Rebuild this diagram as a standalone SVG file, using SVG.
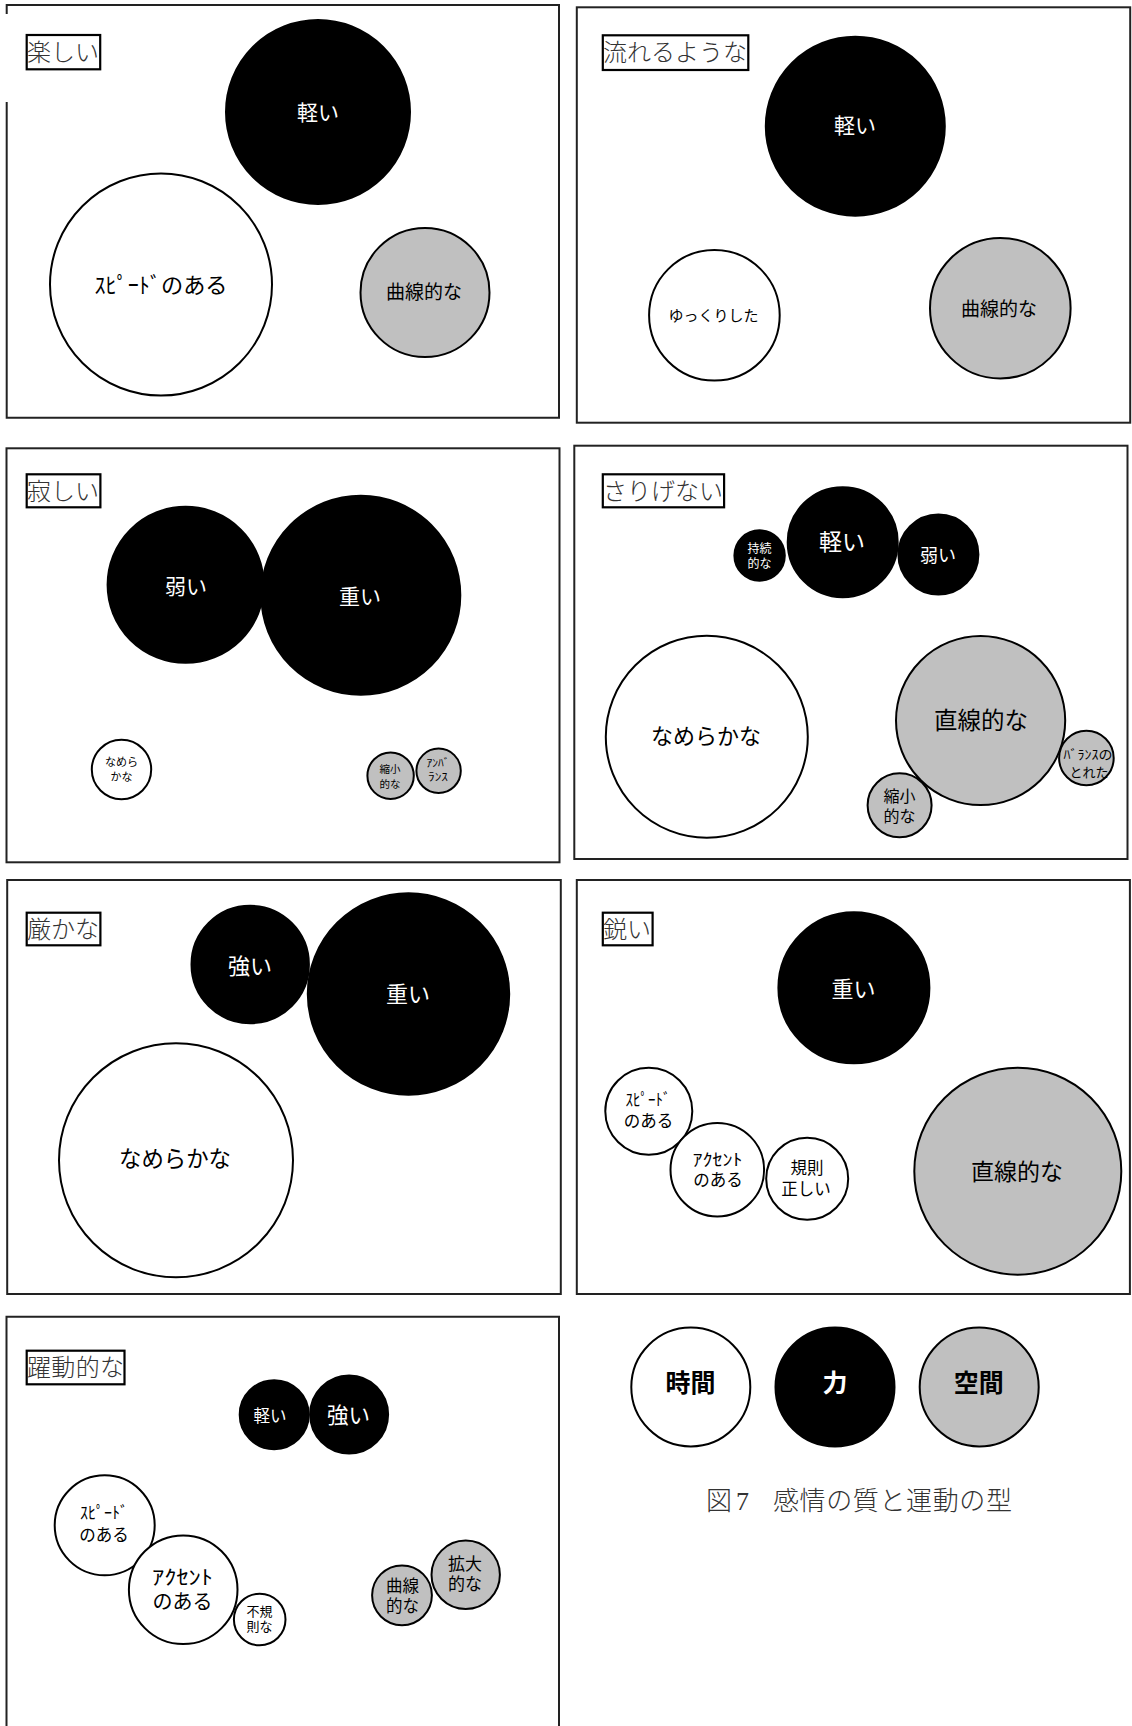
<svg xmlns="http://www.w3.org/2000/svg" width="1132" height="1726" viewBox="0 0 1132 1726">
<style>
.frame{fill:none;stroke:#222;stroke-width:2}
.tbox{fill:#fff;stroke:#000;stroke-width:2.2}
.title{font-family:"Liberation Serif","Noto Sans CJK JP",serif;font-weight:300;font-size:24px;fill:#333}
.k{fill:#000;stroke:#000;stroke-width:2}
.w{fill:#fff;stroke:#000;stroke-width:2}
.g{fill:#c0c0c0;stroke:#000;stroke-width:2}
.lb{font-family:"Noto Sans CJK JP","Noto Sans",sans-serif;text-anchor:middle;fill:#000}
.lw{font-family:"Noto Sans CJK JP","Noto Sans",sans-serif;text-anchor:middle;fill:#fff}
.bold{font-weight:bold}
.cap{font-family:"Liberation Serif","Noto Sans CJK JP",serif;font-weight:300;font-size:26px;fill:#333}
</style>
<rect width="1132" height="1726" fill="#fff"/>

<!-- Panel 1: 楽しい -->
<g id="panel-tanoshii">
  <path class="frame" d="M6.7,14 V5 H559 V417.7 H6.7 V102"/>
  <g id="t1"><rect class="tbox" x="26.7" y="35" width="73.5" height="34.3"/><text class="title" x="27" y="61">楽しい</text></g>
  <g id="n1a"><circle class="k" cx="318" cy="112" r="92"/><text class="lw" x="318" y="120" font-size="21">軽い</text></g>
  <g id="n1b"><circle class="w" cx="161" cy="284.5" r="111"/><text class="lb" x="161" y="293" font-size="22" textLength="133" lengthAdjust="spacingAndGlyphs">ｽﾋﾟｰﾄﾞのある</text></g>
  <g id="n1c"><circle class="g" cx="425" cy="292.5" r="64.5"/><text class="lb" x="424" y="299" font-size="19">曲線的な</text></g>
</g>

<!-- Panel 2: 流れるような -->
<g id="panel-nagareru">
  <rect class="frame" x="576.8" y="7.3" width="553.4" height="415.4"/>
  <g id="t2"><rect class="tbox" x="602.8" y="35.3" width="145.5" height="34.7"/><text class="title" x="603" y="61" textLength="144">流れるような</text></g>
  <g id="n2a"><circle class="k" cx="855.3" cy="126.2" r="89.5"/><text class="lw" x="855" y="133" font-size="21">軽い</text></g>
  <g id="n2b"><circle class="w" cx="714.4" cy="315.3" r="65.3"/><text class="lb" x="713.5" y="321" font-size="15">ゆっくりした</text></g>
  <g id="n2c"><circle class="g" cx="1000.3" cy="308.2" r="70.3"/><text class="lb" x="999" y="316" font-size="19">曲線的な</text></g>
</g>

<!-- Panel 3: 寂しい -->
<g id="panel-sabishii">
  <rect class="frame" x="6.5" y="448.3" width="553" height="414"/>
  <g id="t3"><rect class="tbox" x="26.7" y="474.3" width="73.7" height="33"/><text class="title" x="27" y="500">寂しい</text></g>
  <g id="n3a"><circle class="k" cx="185.6" cy="584.8" r="78"/><text class="lw" x="186" y="594" font-size="21">弱い</text></g>
  <g id="n3b"><circle class="k" cx="360.8" cy="595.3" r="99.5"/><text class="lw" x="360" y="604" font-size="21">重い</text></g>
  <g id="n3c"><circle class="w" cx="121.5" cy="769.5" r="29.7"/><text class="lb" font-size="11"><tspan x="121.5" y="766">なめら</tspan><tspan x="121.5" y="781">かな</tspan></text></g>
  <g id="n3d"><circle class="g" cx="390.6" cy="775.7" r="23.2"/><text class="lb" font-size="10.5"><tspan x="390" y="773">縮小</tspan><tspan x="390" y="788">的な</tspan></text></g>
  <g id="n3e"><circle class="g" cx="438.6" cy="770.8" r="22.2"/><text class="lb" font-size="11"><tspan x="438" y="767" textLength="23" lengthAdjust="spacingAndGlyphs">ｱﾝﾊﾞ</tspan><tspan x="438" y="781" textLength="20" lengthAdjust="spacingAndGlyphs">ﾗﾝｽ</tspan></text></g>
</g>

<!-- Panel 4: さりげない -->
<g id="panel-sarigenai">
  <rect class="frame" x="574.3" y="445.7" width="553.2" height="413.3"/>
  <g id="t4"><rect class="tbox" x="602.8" y="474.3" width="121.3" height="33"/><text class="title" x="603" y="500" textLength="120">さりげない</text></g>
  <g id="n4a"><circle class="k" cx="759.6" cy="555.5" r="25.2"/><text class="lw" font-size="12"><tspan x="759.6" y="553">持続</tspan><tspan x="759.6" y="568">的な</tspan></text></g>
  <g id="n4b"><circle class="k" cx="842.7" cy="542.2" r="55"/><text class="lw" x="842" y="550" font-size="23">軽い</text></g>
  <g id="n4c"><circle class="k" cx="938.4" cy="554.5" r="40"/><text class="lw" x="938" y="562" font-size="18">弱い</text></g>
  <g id="n4d"><circle class="w" cx="706.8" cy="736.7" r="101"/><text class="lb" x="706" y="744" font-size="22">なめらかな</text></g>
  <g id="n4e"><circle class="g" cx="980.6" cy="720.5" r="84.6"/><text class="lb" x="981" y="729" font-size="23.5">直線的な</text></g>
  <g id="n4f"><circle class="g" cx="1086.4" cy="758" r="27.3"/><text class="lb" font-size="13"><tspan x="1088" y="759" textLength="49" lengthAdjust="spacingAndGlyphs">ﾊﾞﾗﾝｽの</tspan><tspan x="1089" y="777">とれた</tspan></text></g>
  <g id="n4g"><circle class="g" cx="899.6" cy="805.3" r="32"/><text class="lb" font-size="16"><tspan x="899.5" y="802">縮小</tspan><tspan x="899.5" y="822">的な</tspan></text></g>
</g>

<!-- Panel 5: 厳かな -->
<g id="panel-ogosoka">
  <rect class="frame" x="7.2" y="880" width="553.6" height="414"/>
  <g id="t5"><rect class="tbox" x="26.7" y="912.7" width="73.7" height="32.6"/><text class="title" x="27" y="938">厳かな</text></g>
  <g id="n5a"><circle class="k" cx="250.2" cy="964.5" r="58.7"/><text class="lw" x="250" y="974" font-size="22">強い</text></g>
  <g id="n5b"><circle class="k" cx="408.5" cy="994" r="100.7"/><text class="lw" x="408" y="1002" font-size="22">重い</text></g>
  <g id="n5c"><circle class="w" cx="176" cy="1160.3" r="117"/><text class="lb" x="175" y="1167" font-size="22.4">なめらかな</text></g>
</g>

<!-- Panel 6: 鋭い -->
<g id="panel-surudoi">
  <rect class="frame" x="576.8" y="880" width="553.1" height="414"/>
  <g id="t6"><rect class="tbox" x="602.8" y="912.7" width="49.8" height="32.6"/><text class="title" x="603" y="938">鋭い</text></g>
  <g id="n6a"><circle class="k" cx="853.9" cy="987.8" r="75.5"/><text class="lw" x="853.5" y="997" font-size="22">重い</text></g>
  <g id="n6b"><circle class="w" cx="648.8" cy="1111.2" r="43.5"/><text class="lb" font-size="16.5"><tspan x="648" y="1106" textLength="45" lengthAdjust="spacingAndGlyphs">ｽﾋﾟｰﾄﾞ</tspan><tspan x="648.5" y="1127">のある</tspan></text></g>
  <g id="n6c"><circle class="w" cx="717.3" cy="1169.7" r="46.8"/><text class="lb" font-size="16.5"><tspan x="717.5" y="1166" textLength="50" lengthAdjust="spacingAndGlyphs">ｱｸｾﾝﾄ</tspan><tspan x="718" y="1186">のある</tspan></text></g>
  <g id="n6d"><circle class="w" cx="807.2" cy="1178.8" r="41"/><text class="lb" font-size="16.5"><tspan x="807" y="1174">規則</tspan><tspan x="806" y="1195">正しい</tspan></text></g>
  <g id="n6e"><circle class="g" cx="1017.8" cy="1171.2" r="103.5"/><text class="lb" x="1017" y="1180" font-size="23">直線的な</text></g>
</g>

<!-- Panel 7: 躍動的な -->
<g id="panel-yakudo">
  <path class="frame" d="M6.5,1726 V1316.7 H559 V1726"/>
  <g id="t7"><rect class="tbox" x="26.7" y="1350.7" width="97.8" height="33.6"/><text class="title" x="27" y="1376" textLength="97">躍動的な</text></g>
  <g id="n7a"><circle class="k" cx="274.2" cy="1414.7" r="34.5"/><text class="lw" x="270" y="1422" font-size="16.5">軽い</text></g>
  <g id="n7b"><circle class="k" cx="349.1" cy="1414.5" r="39"/><text class="lw" x="348.4" y="1423" font-size="21.5">強い</text></g>
  <g id="n7c"><circle class="w" cx="104.7" cy="1525.3" r="50"/><text class="lb" font-size="16.5"><tspan x="104" y="1519" textLength="48" lengthAdjust="spacingAndGlyphs">ｽﾋﾟｰﾄﾞ</tspan><tspan x="104" y="1541">のある</tspan></text></g>
  <g id="n7d"><circle class="w" cx="183.2" cy="1589.7" r="54.3"/><text class="lb" font-size="20"><tspan x="182.5" y="1585" textLength="61" lengthAdjust="spacingAndGlyphs">ｱｸｾﾝﾄ</tspan><tspan x="182.5" y="1609">のある</tspan></text></g>
  <g id="n7e"><circle class="w" cx="259.7" cy="1619.5" r="25.8"/><text class="lb" font-size="13"><tspan x="259.6" y="1616">不規</tspan><tspan x="259.6" y="1631">則な</tspan></text></g>
  <g id="n7f"><circle class="g" cx="402" cy="1595.3" r="29.9"/><text class="lb" font-size="16.5"><tspan x="402.5" y="1592">曲線</tspan><tspan x="402.5" y="1612">的な</tspan></text></g>
  <g id="n7g"><circle class="g" cx="465.7" cy="1574.8" r="34.2"/><text class="lb" font-size="17"><tspan x="465" y="1570">拡大</tspan><tspan x="465" y="1590">的な</tspan></text></g>
</g>

<!-- Legend -->
<g id="legend">
  <g id="lg-time"><circle class="w" cx="690.8" cy="1387" r="59.5"/><text class="lb bold" x="690.5" y="1392" font-size="25">時間</text></g>
  <g id="lg-force"><circle class="k" cx="835" cy="1387" r="59.5"/><text class="lw bold" x="835" y="1392" font-size="25">力</text></g>
  <g id="lg-space"><circle class="g" cx="979.2" cy="1387" r="59.5"/><text class="lb bold" x="978.7" y="1392" font-size="25">空間</text></g>
</g>

<!-- Caption -->
<text id="caption" class="cap"><tspan x="706" y="1510">図</tspan><tspan x="736" y="1510">7</tspan><tspan x="773" y="1510" textLength="239">感情の質と運動の型</tspan></text>

<g id="connectors"/>
</svg>
